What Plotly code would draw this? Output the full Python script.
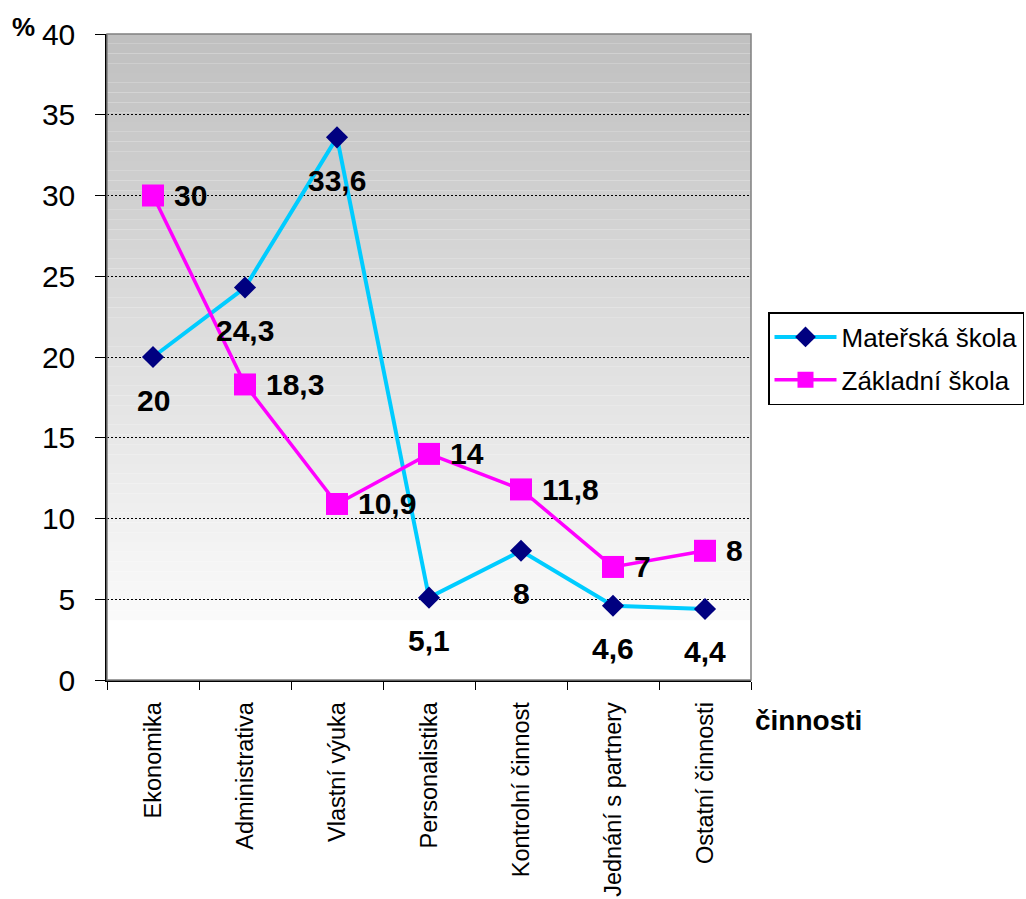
import plotly.graph_objects as go

# Activity categories (x axis) and shares in percent for both school types
categories = ["Ekonomika", "Administrativa", "Vlastní výuka", "Personalistika",
              "Kontrolní činnost", "Jednání s partnery", "Ostatní činnosti"]
materska = [20, 24.3, 33.6, 5.1, 8, 4.6, 4.4]
zakladni = [30, 18.3, 10.9, 14, 11.8, 7, 8]
y_ticks = [0, 5, 10, 15, 20, 25, 30, 35, 40]

FONT = "Arial, Liberation Sans, sans-serif"


def fmt(v):
    s = f"{v:g}"
    return s.replace(".", ",")


fig = go.Figure()

fig.add_trace(go.Scatter(
    x=categories, y=materska, name="Mateřská škola",
    mode="lines+markers", legendgroup="ms",
    line=dict(color="#00CCFF", width=4),
    marker=dict(symbol="diamond", size=17, color="#000080"),
))
fig.add_trace(go.Scatter(
    x=categories, y=zakladni, name="Základní škola",
    mode="lines+markers", legendgroup="zs",
    line=dict(color="#FF00FF", width=3.5),
    marker=dict(symbol="square", size=22, color="#FF00FF"),
))

# Value labels: below the diamonds, to the right of the squares
annotations = []
for c, v in zip(categories, materska):
    annotations.append(dict(
        x=c, y=v, xref="x", yref="y", text=fmt(v), showarrow=False,
        yshift=-43, xanchor="center", yanchor="middle",
        font=dict(family=FONT, size=30, color="black", weight="bold"),
    ))
for c, v in zip(categories, zakladni):
    annotations.append(dict(
        x=c, y=v, xref="x", yref="y", text=fmt(v), showarrow=False,
        xshift=19, xanchor="left", yanchor="middle",
        font=dict(family=FONT, size=30, color="black", weight="bold"),
    ))

# Axis titles (positions given in pixels, converted to paper units below)
annotations.append(dict(
    x=23, y=27, text="%", showarrow=False,
    font=dict(family=FONT, size=26, color="black", weight="bold"),
))
annotations.append(dict(
    x=808, y=720, text="činnosti", showarrow=False,
    font=dict(family=FONT, size=28, color="black", weight="bold"),
))

W, H = 1026, 899
ML, MR, MT, MB = 107, 275, 34, 219
for a in annotations[-2:]:
    px, py = a["x"], a["y"]
    a["xref"] = "paper"
    a["yref"] = "paper"
    a["x"] = (px - ML) / (W - ML - MR)
    a["y"] = (H - MB - py) / (H - MT - MB)
    a["xanchor"] = "center"
    a["yanchor"] = "middle"

# Gray-to-white vertical gradient behind the plot, built from thin bands
shapes = []
bottom, top = 3.7, 40.0
n_bands = 60
step = (top - bottom) / n_bands
for i in range(n_bands):
    y0 = bottom + i * step
    frac = (y0 + step / 2 - bottom) / (top - bottom)
    g = round(250 - frac * 58)
    shapes.append(dict(
        type="rect", xref="paper", yref="y", x0=0, x1=1, y0=y0, y1=y0 + step,
        fillcolor=f"rgb({g},{g},{g})", line=dict(width=0), layer="below",
    ))
# Plot-area frame
shapes.append(dict(
    type="rect", xref="paper", yref="paper", x0=0, x1=1, y0=0, y1=1,
    line=dict(color="#808080", width=1.5), fillcolor="rgba(0,0,0,0)", layer="above",
))

fig.update_layout(
    width=W, height=H,
    margin=dict(l=ML, r=MR, t=MT, b=MB, pad=0, autoexpand=False),
    paper_bgcolor="white", plot_bgcolor="white",
    font=dict(family=FONT, color="black"),
    shapes=shapes,
    annotations=annotations,
    showlegend=True,
    legend=dict(
        x=(768 - ML) / (W - ML - MR), y=(H - MB - 312) / (H - MT - MB),
        xanchor="left", yanchor="top",
        bordercolor="black", borderwidth=1.5, bgcolor="white",
        font=dict(family=FONT, size=26, color="black"),
        tracegroupgap=6, itemwidth=62,
    ),
)

fig.update_xaxes(
    type="category", range=[-0.5, 6.5], automargin=False,
    showline=True, linecolor="black", linewidth=1.5,
    ticks="outside", tickson="boundaries", ticklen=8, tickcolor="black",
    tickangle=-90, ticklabelstandoff=11,
    tickfont=dict(family=FONT, size=23.5, color="black"),
    showgrid=False, zeroline=False,
)
fig.update_yaxes(
    range=[0, 40], tickvals=y_ticks, ticktext=[str(t) for t in y_ticks],
    automargin=False,
    showline=True, linecolor="black", linewidth=1.5,
    ticks="outside", ticklen=10, tickcolor="black",
    ticklabelstandoff=14,
    tickfont=dict(family=FONT, size=30, color="black"),
    showgrid=True, gridcolor="black", gridwidth=1, griddash="2px,2px",
    zeroline=False,
)

fig.write_html("out.html")
